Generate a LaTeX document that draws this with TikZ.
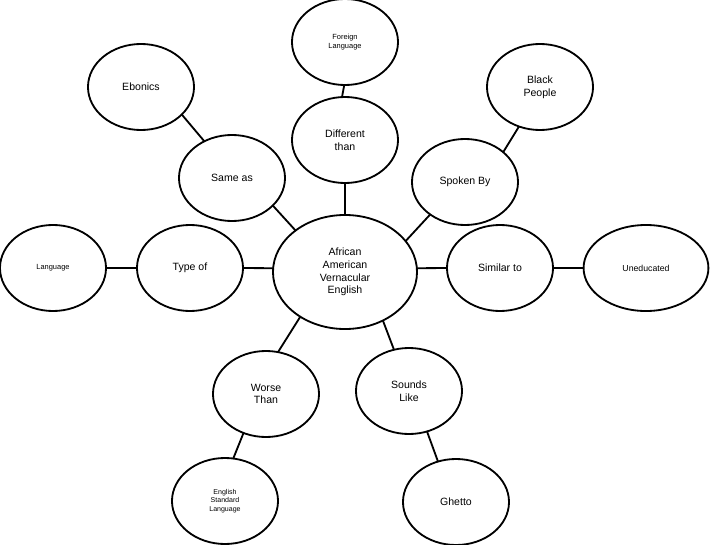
\documentclass[tikz,border=0pt]{standalone}
\usepackage{fontspec}
\setmainfont{Liberation Sans}
\usetikzlibrary{shapes.geometric}
\tikzset{
  bubble/.style={ellipse,draw,line width=1.3pt,inner sep=0pt,outer sep=0pt,
    minimum width=2.65cm,minimum height=2.15cm,align=center,
    font=\fontsize{7.5}{9}\selectfont},
  smalltext/.style={font=\fontsize{5.3}{6.4}\selectfont},
  link/.style={line width=1.3pt}
}

\begin{document}
\begin{tikzpicture}[x=0.025cm,y=-0.025cm]
  \useasboundingbox (0,0) rectangle (710,545);
  % centre
  \node[bubble,minimum width=3.6cm,minimum height=2.85cm] (aave) at (345,272) {African\\American\\Vernacular\\English};
  % relations
  \node[bubble] (sameas)  at (232,178) {Same as};
  \node[bubble] (diff)    at (345,140) {Different\\than};
  \node[bubble] (spoken)  at (465,182) {Spoken By};
  \node[bubble] (typeof)  at (190,268) {Type of};
  \node[bubble] (similar) at (500,268) {Similar to};
  \node[bubble] (worse)   at (266,394) {Worse\\Than};
  \node[bubble] (sounds)  at (409,391) {Sounds\\Like};
  % outer ring
  \node[bubble] (ebonics) at (141,87) {Ebonics};
  \node[bubble,smalltext] (foreign) at (345,42) {Foreign\\Language};
  \node[bubble] (black)   at (540,87) {Black\\People};
  \node[bubble,smalltext] (lang) at (53,268) {Language};
  \node[bubble,smalltext,font=\fontsize{6.2}{7.4}\selectfont,minimum width=3.12cm] (uned) at (646,268) {Uneducated};
  \node[bubble,smalltext,font=\fontsize{5}{6.2}\selectfont] (esl) at (225,501) {English\\Standard\\Language};
  \node[bubble] (ghetto)  at (456,502) {Ghetto};

  \draw[link] (aave.177) -- (typeof.0);
  \draw[link] (aave.3) -- (similar.180);
  \draw[link] (aave.90) -- (diff.-90);
  \draw[link] (aave.140) -- (sameas.-34);
  \draw[link] (aave.27) -- (spoken.-137);
  \draw[link] (aave.-135) -- (worse.74);
  \draw[link] (aave.-52) -- (sounds.110);
  \draw[link] (lang.0) -- (typeof.180);
  \draw[link] (similar.0) -- (uned.180);
  \draw[link] (ebonics.-34) -- (sameas.127);
  \draw[link] (foreign.-91) -- (diff.94);
  \draw[link] (black.-118) -- (spoken.38);
  \draw[link] (worse.-120) -- (esl.79);
  \draw[link] (sounds.-66) -- (ghetto.114);
\end{tikzpicture}
\end{document}
